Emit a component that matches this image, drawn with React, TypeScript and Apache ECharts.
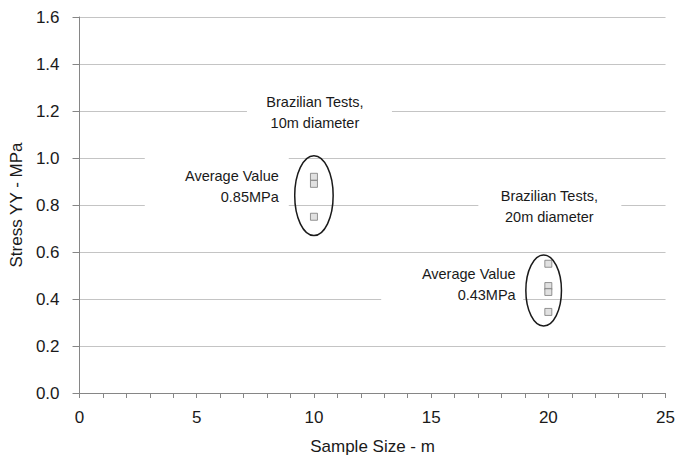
import React, { useEffect, useRef } from "react";
import * as echarts from "echarts";

// ---- data ----
const sampleSize10m = [10, 10, 10];
const stress10m = [0.92, 0.89, 0.75];
const sampleSize20m = [20, 20, 20, 20];
const stress20m = [0.55, 0.455, 0.43, 0.345];

const xTickLabels = [0, 5, 10, 15, 20, 25];
const yTickLabels = ["0.0", "0.2", "0.4", "0.6", "0.8", "1.0", "1.2", "1.4", "1.6"];

// ellipses around each group (data units)
const ellipseCenterX = [10, 19.8];
const ellipseCenterY = [0.84, 0.436];
const ellipseHalfWidth = [0.82, 0.76];
const ellipseHalfHeight = [0.17, 0.151];

// annotations (anchor in data units)
const annotationTexts = [
  "Brazilian Tests,\n10m diameter",
  "Average Value\n0.85MPa",
  "Brazilian Tests,\n20m diameter",
  "Average Value\n0.43MPa",
];
const annotationX = [10, 8.5, 20, 18.5];
const annotationY = [1.2, 0.9, 0.8, 0.45];

// ---- styles / layout (pixels relative to anchor) ----
const annotationLayout = [
  { align: "center", dx: 1, dy: 1.5, box: [-67, -21, 145, 45] },
  { align: "right", dx: 0, dy: 4.5, box: [-134, -33.5, 144, 64] },
  { align: "center", dx: 1, dy: 1.5, box: [-70, -20, 143, 44] },
  { align: "right", dx: 2.5, dy: -3, box: [-132, -25, 142, 50] },
];

const FONT = '"Liberation Sans", Arial, sans-serif';
const TEXT = "#1a1a1a";
const AXIS = "#868686";
const GRID = "#c4c4c4";

export default function App() {
  const ref = useRef<HTMLDivElement>(null);

  useEffect(() => {
    if (!ref.current) return;
    const chart = echarts.init(ref.current, undefined, { renderer: "svg" });

    const scatterStyle = {
      type: "scatter",
      symbol: "rect",
      symbolSize: 7,
      itemStyle: { color: "#dadada", borderColor: "#7a7a7a", borderWidth: 1 },
      z: 4,
    };

    chart.setOption({
      animation: false,
      backgroundColor: "#ffffff",
      textStyle: { fontFamily: FONT },
      grid: { left: 78, right: 10, top: 17, bottom: 69, containLabel: false },
      xAxis: {
        type: "value",
        min: 0,
        max: 25,
        interval: 1,
        name: "Sample Size - m",
        nameLocation: "middle",
        nameGap: 45,
        nameTextStyle: { fontSize: 17, color: TEXT, fontFamily: FONT },
        axisLine: { show: true, lineStyle: { color: AXIS, width: 1 } },
        axisTick: { show: true, length: 5, lineStyle: { color: AXIS } },
        axisLabel: {
          fontSize: 17,
          color: TEXT,
          margin: 16,
          fontFamily: FONT,
          formatter: (v: number) => (xTickLabels.includes(v) ? String(v) : ""),
        },
        splitLine: { show: false },
      },
      yAxis: {
        type: "value",
        min: 0,
        max: 1.6,
        interval: 0.2,
        name: "Stress YY - MPa",
        nameLocation: "middle",
        nameGap: 52,
        nameTextStyle: { fontSize: 17, color: TEXT, fontFamily: FONT },
        axisLine: { show: true, lineStyle: { color: AXIS, width: 1 } },
        axisTick: { show: true, length: 7, lineStyle: { color: AXIS } },
        axisLabel: {
          fontSize: 17,
          color: TEXT,
          margin: 20,
          fontFamily: FONT,
          formatter: (v: number) => yTickLabels[Math.round(v / 0.2)] ?? "",
        },
        splitLine: { show: true, lineStyle: { color: GRID, width: 1 } },
      },
      series: [
        {
          type: "custom",
          name: "annotations",
          z: 3,
          silent: true,
          encode: { x: 0, y: 1 },
          data: annotationX.map((x, i) => [x, annotationY[i], i]),
          renderItem: (params: any, api: any) => {
            const i = params.dataIndex;
            const p = api.coord([api.value(0), api.value(1)]);
            const l = annotationLayout[i];
            return {
              type: "group",
              children: [
                {
                  type: "rect",
                  shape: { x: p[0] + l.box[0], y: p[1] + l.box[1], width: l.box[2], height: l.box[3] },
                  style: { fill: "#ffffff", stroke: "none" },
                },
                {
                  type: "text",
                  x: p[0] + l.dx,
                  y: p[1] + l.dy,
                  style: {
                    text: annotationTexts[i],
                    fill: TEXT,
                    font: `14.5px ${FONT}`,
                    align: l.align,
                    verticalAlign: "middle",
                    lineHeight: 21,
                  },
                },
              ],
            };
          },
        },
        {
          type: "custom",
          name: "ellipses",
          z: 5,
          silent: true,
          encode: { x: 0, y: 1 },
          data: ellipseCenterX.map((x, i) => [x, ellipseCenterY[i], ellipseHalfWidth[i], ellipseHalfHeight[i]]),
          renderItem: (params: any, api: any) => {
            const c = api.coord([api.value(0), api.value(1)]);
            const s = api.size([api.value(2), api.value(3)]);
            return {
              type: "ellipse",
              shape: { cx: c[0], cy: c[1], rx: s[0], ry: s[1] },
              style: { fill: "none", stroke: "#1a1a1a", lineWidth: 1.5 },
            };
          },
        },
        {
          ...scatterStyle,
          name: "Brazilian Tests, 10m diameter",
          data: sampleSize10m.map((x, i) => [x, stress10m[i]]),
        },
        {
          ...scatterStyle,
          name: "Brazilian Tests, 20m diameter",
          data: sampleSize20m.map((x, i) => [x, stress20m[i]]),
        },
      ],
    });

    return () => chart.dispose();
  }, []);

  return (
    <div
      ref={ref}
      style={{ position: "fixed", left: 0, top: 0, width: 678, height: 462, background: "#fff" }}
    />
  );
}
